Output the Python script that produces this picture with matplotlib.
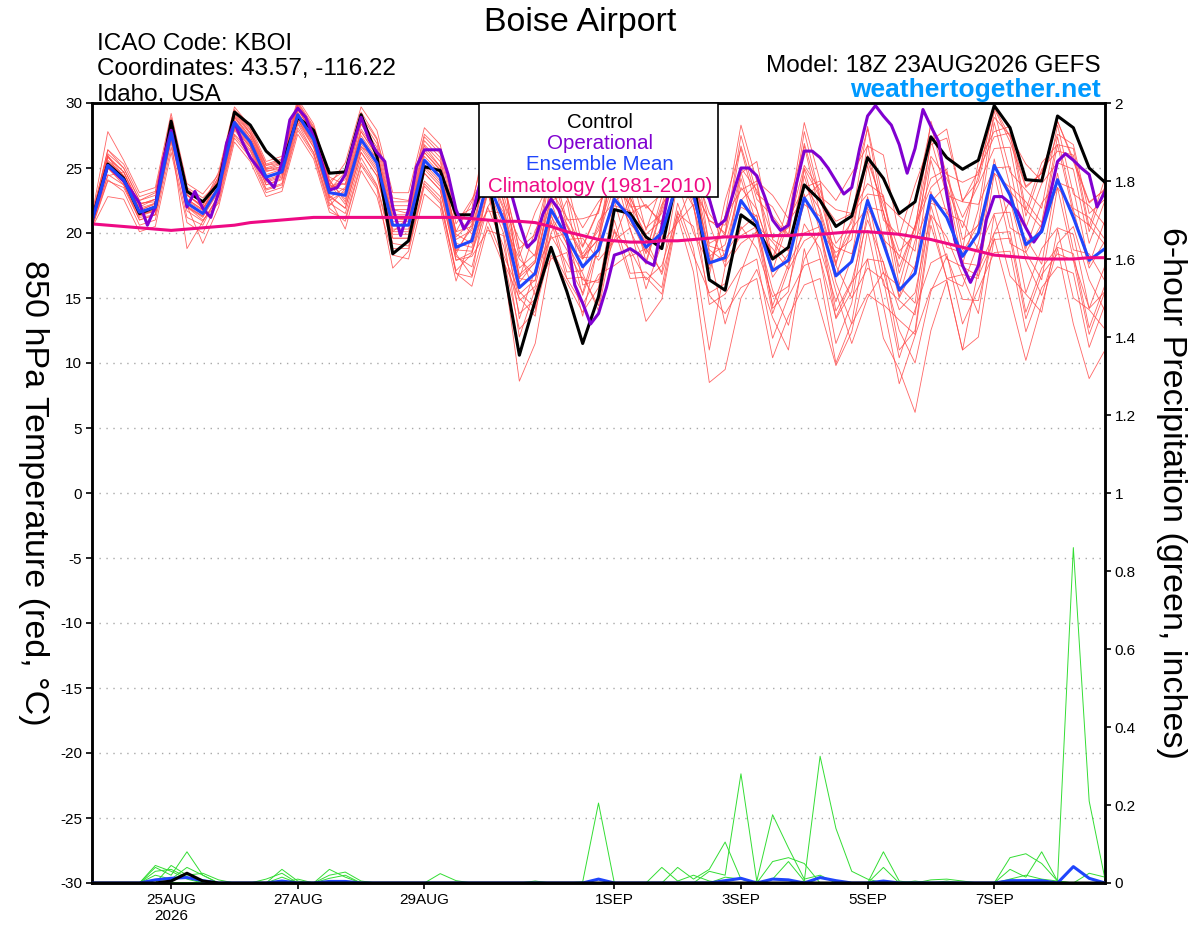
import numpy as np
import pandas as pd
import matplotlib
matplotlib.use('Agg')
import matplotlib.pyplot as plt
from matplotlib.patches import Rectangle

plt.rcParams['font.family'] = ['Liberation Sans', 'DejaVu Sans']
plt.rcParams['axes.unicode_minus'] = False

# time axis: GEFS 18Z 23AUG2026, 6-hourly to 384h (operational 3-hourly)
start = pd.Timestamp('2026-08-23 18:00')
times = pd.date_range(start, periods=65, freq='6h')
op_times = pd.date_range(start, periods=129, freq='3h')

tick_days = ['2026-08-25', '2026-08-27', '2026-08-29', '2026-09-01',
             '2026-09-03', '2026-09-05', '2026-09-07']
tick_labels = ['25AUG\n2026', '27AUG', '29AUG', '1SEP', '3SEP', '5SEP', '7SEP']

# 850 hPa temperature (C)
control = [21.0, 25.3, 24.2, 21.5, 22.0, 28.6, 23.2, 22.4,
           23.8, 29.3, 28.3, 26.3, 25.2, 28.9, 27.9, 24.6,
           24.7, 29.1, 25.9, 18.4, 19.4, 25.1, 24.8, 21.4,
           21.4, 24.5, 17.5, 10.6, 14.8, 18.9, 15.5, 11.5,
           15.1, 21.8, 21.5, 19.7, 18.8, 24.5, 24.0, 16.4,
           15.6, 21.4, 20.5, 18.0, 18.9, 23.7, 22.5, 20.5,
           21.3, 25.8, 24.2, 21.5, 22.4, 27.4, 25.8, 24.9,
           25.6, 29.8, 28.1, 24.1, 24.0, 29.0, 28.1, 25.0, 23.9]

ens_mean = [20.9, 25.2, 24.1, 21.6, 22.0, 27.7, 22.3, 21.5,
            23.5, 28.5, 27.0, 24.3, 24.7, 29.1, 27.2, 23.1,
            22.9, 27.2, 25.4, 20.6, 20.6, 25.6, 24.3, 18.9,
            19.4, 24.0, 21.0, 15.8, 16.9, 21.8, 19.7, 17.4,
            18.7, 22.6, 21.2, 18.9, 20.0, 24.0, 23.0, 17.7,
            18.1, 22.5, 20.8, 17.1, 17.9, 22.7, 20.8, 16.7,
            17.8, 22.5, 19.2, 15.6, 16.9, 22.9, 21.2, 18.2,
            20.0, 25.2, 22.9, 19.1, 20.1, 24.1, 21.2, 17.9, 18.8]

climatology = [20.7, 20.6, 20.5, 20.4, 20.3, 20.2, 20.3, 20.4,
               20.5, 20.6, 20.8, 20.9, 21.0, 21.1, 21.2, 21.2,
               21.2, 21.2, 21.2, 21.2, 21.2, 21.2, 21.2, 21.2,
               21.1, 21.0, 20.9, 20.9, 20.8, 20.5, 20.1, 19.8,
               19.5, 19.4, 19.3, 19.3, 19.4, 19.4, 19.5, 19.6,
               19.7, 19.7, 19.8, 19.8, 19.8, 19.9, 19.9, 20.0,
               20.1, 20.1, 20.0, 19.9, 19.7, 19.5, 19.2, 18.9,
               18.6, 18.3, 18.2, 18.1, 18.0, 18.0, 18.0, 18.1, 18.1]

operational = [21.0, 23.0, 25.2, 24.6, 24.0, 23.2, 22.3, 20.6, 22.0, 25.6,
               27.9, 25.0, 22.0, 23.2, 21.9, 21.2, 23.1, 26.9, 28.5, 27.0,
               25.8, 25.0, 24.2, 23.5, 25.4, 28.7, 29.6, 28.9, 27.4, 25.5,
               23.3, 23.5, 24.5, 26.8, 28.9, 27.2, 26.2, 25.5, 22.0, 19.8,
               21.8, 25.1, 26.4, 26.4, 26.4, 24.5, 21.8, 20.3, 21.3, 23.8,
               25.0, 25.5, 24.5, 23.0, 20.8, 18.9, 19.5, 21.5, 22.6, 21.8,
               19.8, 16.0, 14.6, 13.0, 13.8, 15.8, 18.3, 18.5, 18.8, 18.4,
               17.8, 17.5, 20.5, 23.5, 25.5, 26.0, 25.0, 23.5, 22.6, 20.5,
               21.0, 23.0, 25.0, 25.0, 24.4, 22.8, 21.0, 20.2, 20.6, 23.8,
               26.3, 26.3, 25.8, 25.0, 24.0, 23.0, 23.5, 26.5, 29.0, 29.8,
               29.0, 28.3, 26.8, 24.6, 26.5, 29.5, 28.2, 27.0, 23.0, 19.5,
               17.5, 16.2, 17.5, 21.0, 22.8, 22.8, 22.3, 21.6, 20.4, 19.3,
               20.2, 22.8, 25.5, 26.1, 25.6, 25.0, 24.5, 22.0, 23.2]

members = [
    [21.2, 25.9, 24.4, 22.3, 22.4, 28.1, 23.0, 21.9, 23.6, 28.9, 27.2, 24.8, 24.9, 29.6, 27.4, 23.5,
     23.8, 28.4, 26.2, 21.8, 21.5, 26.7, 25.1, 20.1, 20.5, 26.8, 24.5, 16.2, 17.8, 24.9, 20.6, 18.0,
     19.6, 26.9, 22.5, 17.8, 22.0, 27.9, 25.0, 21.5, 19.8, 24.6, 25.5, 19.5, 18.6, 25.0, 22.7, 18.1,
     20.2, 26.0, 21.6, 17.4, 20.5, 26.8, 27.3, 22.5, 24.0, 28.9, 27.5, 25.3, 24.0, 27.6, 26.8, 21.5, 22.6],
    [20.6, 24.5, 23.7, 21.0, 21.4, 27.1, 18.8, 20.9, 22.8, 27.6, 26.3, 23.4, 23.8, 28.4, 26.2, 22.3,
     21.5, 25.8, 23.7, 19.2, 19.0, 24.0, 22.8, 16.9, 16.6, 21.0, 18.0, 12.6, 14.0, 18.8, 16.5, 14.5,
     16.8, 17.5, 18.4, 13.2, 14.9, 21.3, 17.0, 8.5, 9.5, 15.0, 17.2, 13.5, 11.0, 18.8, 14.1, 9.8,
     12.4, 18.0, 11.9, 9.5, 6.2, 12.5, 16.3, 11.0, 12.0, 19.6, 15.0, 10.2, 14.5, 18.8, 13.0, 8.8, 11.0],
    [21.3, 26.4, 25.0, 22.5, 23.1, 28.6, 23.4, 22.4, 24.3, 29.4, 27.7, 25.2, 25.4, 29.9, 28.0, 24.0,
     24.8, 29.3, 27.3, 22.7, 22.5, 27.6, 26.4, 21.2, 21.9, 28.3, 23.0, 18.2, 21.6, 24.1, 23.9, 19.0,
     21.8, 25.5, 21.0, 18.5, 22.8, 24.3, 22.0, 17.6, 18.4, 20.3, 21.4, 14.2, 15.5, 23.0, 18.0, 13.5,
     16.2, 18.0, 17.8, 11.0, 12.5, 21.3, 16.5, 16.8, 16.5, 24.6, 19.2, 18.5, 16.4, 23.5, 18.0, 14.2, 15.5],
    [20.5, 24.1, 23.2, 20.6, 21.0, 26.6, 21.2, 20.6, 23.0, 28.0, 26.6, 23.7, 24.2, 28.7, 26.6, 22.7,
     20.3, 24.8, 22.8, 18.3, 18.0, 23.0, 21.9, 16.3, 19.8, 21.7, 21.5, 13.4, 17.2, 19.6, 20.0, 15.2,
     18.9, 26.0, 21.5, 22.2, 20.6, 27.4, 23.4, 21.0, 20.0, 27.5, 23.0, 22.0, 19.8, 27.8, 22.8, 21.8,
     21.5, 23.0, 22.8, 16.0, 20.5, 23.5, 24.7, 18.7, 25.5, 27.8, 28.2, 21.8, 25.4, 26.8, 26.5, 20.5, 24.2],
    [21.0, 25.6, 24.4, 21.7, 22.3, 27.8, 22.6, 21.8, 24.0, 29.0, 27.4, 24.9, 25.1, 29.5, 27.7, 23.7,
     23.3, 27.8, 25.9, 21.1, 21.0, 26.2, 24.8, 18.7, 18.6, 23.2, 17.8, 15.0, 13.6, 21.0, 16.5, 16.6,
     14.4, 21.0, 16.9, 17.0, 15.8, 22.3, 18.8, 11.0, 17.4, 24.2, 20.0, 18.8, 17.2, 24.4, 20.1, 18.5,
     19.5, 26.8, 21.0, 19.8, 18.6, 27.2, 22.9, 22.4, 22.2, 25.0, 25.1, 18.8, 22.3, 23.9, 23.4, 17.6, 21.0],
    [20.7, 25.2, 24.1, 21.4, 21.7, 27.4, 22.0, 21.3, 23.5, 28.4, 27.1, 24.3, 24.6, 29.2, 27.3, 23.1,
     24.4, 28.7, 26.9, 22.1, 22.1, 27.1, 25.8, 19.9, 19.2, 26.2, 20.8, 18.0, 16.7, 24.0, 19.5, 19.6,
     17.9, 19.4, 20.4, 15.7, 19.2, 20.8, 22.2, 14.5, 15.3, 17.3, 18.0, 11.9, 15.1, 17.5, 18.0, 11.5,
     14.6, 21.7, 16.0, 14.8, 13.7, 22.1, 18.0, 17.4, 16.7, 19.5, 19.6, 13.4, 16.8, 18.4, 17.9, 12.2, 15.5],
    [21.4, 27.8, 25.6, 23.1, 23.5, 29.2, 23.8, 23.0, 24.5, 29.5, 28.0, 25.3, 25.7, 30.1, 28.2, 24.1,
     22.4, 26.7, 24.9, 20.1, 20.1, 25.1, 23.8, 18.4, 16.7, 23.7, 18.3, 15.5, 14.2, 21.5, 17.0, 17.1,
     20.9, 22.4, 23.4, 18.7, 22.2, 23.8, 25.2, 17.5, 21.3, 23.3, 24.0, 17.9, 21.1, 23.5, 24.0, 17.5,
     15.0, 17.3, 16.4, 10.4, 14.1, 17.7, 18.4, 13.0, 15.7, 18.5, 18.6, 12.4, 15.8, 17.4, 16.9, 11.2, 14.5],
    [20.4, 22.8, 22.6, 20.1, 20.5, 26.2, 20.8, 20.0, 22.5, 27.5, 26.0, 23.3, 23.7, 28.1, 26.2, 22.1,
     23.4, 26.6, 25.9, 20.1, 21.2, 25.0, 24.8, 18.4, 20.7, 27.7, 22.3, 19.5, 18.2, 25.5, 21.0, 21.1,
     21.5, 27.8, 24.0, 24.1, 22.8, 29.2, 25.8, 22.9, 17.9, 24.7, 20.6, 19.3, 17.7, 24.9, 20.6, 18.9,
     18.4, 21.9, 19.8, 15.0, 17.5, 22.3, 21.8, 17.6, 21.8, 29.4, 24.7, 23.3, 21.9, 28.3, 23.0, 22.1, 20.6],
    [21.2, 26.0, 23.8, 21.3, 21.7, 27.4, 22.0, 21.2, 23.2, 28.2, 26.7, 24.0, 24.4, 28.8, 26.9, 22.8,
     21.9, 26.2, 24.4, 19.6, 19.6, 24.6, 23.3, 17.9, 18.5, 22.0, 24.0, 18.6, 15.2, 20.0, 22.5, 16.0,
     16.4, 19.5, 22.8, 19.5, 16.8, 21.0, 23.8, 18.5, 13.0, 17.0, 20.2, 15.6, 12.9, 18.0, 20.0, 15.5,
     11.5, 15.0, 17.0, 12.5, 10.0, 15.5, 18.2, 14.9, 14.8, 20.0, 22.5, 17.9, 15.2, 19.2, 20.5, 16.4, 14.0],
    [20.5, 24.4, 24.7, 22.2, 22.6, 28.3, 22.9, 22.1, 24.1, 29.1, 27.6, 24.9, 25.3, 29.7, 27.8, 23.7,
     25.4, 29.7, 27.9, 23.1, 23.1, 28.1, 26.8, 21.4, 19.9, 23.4, 21.6, 16.5, 16.3, 22.4, 19.1, 18.0,
     20.5, 24.8, 20.2, 17.6, 21.8, 25.9, 22.0, 16.7, 22.5, 26.5, 21.8, 18.0, 22.3, 26.7, 21.5, 17.5,
     23.5, 28.0, 21.5, 18.0, 22.5, 28.3, 23.6, 20.4, 24.4, 29.6, 27.0, 23.5, 24.6, 28.6, 25.5, 22.3, 23.4],
    [20.9, 25.0, 23.7, 21.2, 21.4, 27.3, 22.0, 21.0, 22.3, 27.3, 25.8, 23.1, 23.5, 27.9, 26.0, 21.9,
     20.9, 25.2, 23.4, 17.3, 18.6, 23.6, 22.3, 16.9, 15.9, 20.5, 17.5, 8.6, 11.5, 18.3, 16.2, 13.9,
     15.8, 22.5, 18.2, 18.8, 17.0, 23.9, 20.0, 17.6, 18.1, 22.5, 23.8, 17.1, 20.9, 22.7, 23.8, 16.7,
     20.3, 22.0, 21.7, 15.1, 19.4, 22.4, 23.7, 17.7, 17.5, 25.7, 20.4, 19.6, 17.6, 24.6, 18.7, 18.4, 16.3],
    [21.1, 25.8, 24.7, 22.2, 22.6, 28.3, 22.9, 22.1, 24.7, 29.7, 28.2, 25.5, 25.9, 30.3, 28.4, 24.3,
     23.7, 28.0, 26.2, 21.4, 21.4, 26.4, 25.1, 19.7, 20.9, 25.5, 22.5, 17.3, 18.4, 23.3, 21.2, 18.9,
     21.7, 25.6, 24.2, 21.9, 23.0, 27.0, 26.0, 20.7, 17.4, 19.2, 20.1, 13.8, 17.2, 19.4, 20.1, 13.4,
     15.5, 22.8, 16.9, 15.9, 14.6, 23.2, 18.9, 18.5, 20.7, 28.5, 23.6, 22.4, 20.8, 27.4, 21.9, 21.2, 19.5],
    [20.6, 25.0, 23.9, 21.4, 21.8, 27.5, 22.1, 21.3, 23.3, 28.3, 26.8, 24.1, 24.5, 28.9, 27.0, 22.9,
     21.9, 26.2, 24.4, 19.6, 19.6, 24.6, 23.3, 17.9, 18.2, 20.2, 19.8, 12.0, 15.7, 18.0, 18.5, 13.6,
     19.2, 22.1, 21.7, 18.4, 20.5, 23.5, 23.5, 17.2, 21.3, 28.3, 24.0, 22.9, 21.1, 28.5, 24.0, 22.5,
     24.6, 26.7, 26.0, 19.8, 23.7, 27.1, 28.0, 22.4, 24.8, 27.4, 27.7, 21.3, 24.9, 26.3, 26.0, 20.1, 23.6],
    [21.3, 26.4, 25.3, 22.8, 23.2, 28.9, 23.5, 22.7, 23.9, 28.9, 27.4, 24.7, 25.1, 29.5, 27.6, 23.5,
     24.1, 28.4, 26.6, 21.8, 21.8, 26.8, 25.5, 20.1, 22.4, 27.0, 24.0, 18.8, 19.9, 24.8, 22.7, 20.4,
     22.4, 23.9, 24.9, 20.2, 23.7, 25.3, 26.7, 19.0, 18.6, 22.0, 21.3, 16.6, 18.4, 22.2, 21.3, 16.2,
     13.0, 15.3, 14.4, 8.4, 12.1, 15.7, 16.4, 11.0, 17.2, 20.0, 20.1, 13.9, 17.3, 18.9, 18.4, 12.7, 16.0],
    [20.4, 24.0, 23.5, 21.0, 21.4, 27.1, 21.7, 20.9, 22.9, 27.9, 26.4, 23.7, 24.1, 28.5, 26.6, 22.5,
     23.2, 27.5, 25.7, 20.9, 20.9, 25.9, 24.6, 19.2, 18.9, 23.5, 20.5, 15.3, 16.4, 21.3, 19.2, 16.9,
     14.0, 20.3, 16.5, 16.6, 15.3, 21.7, 18.3, 15.4, 16.1, 20.5, 18.8, 15.1, 15.9, 20.7, 18.8, 14.7,
     18.1, 25.2, 19.5, 18.3, 17.2, 25.6, 21.5, 20.9, 18.7, 21.5, 21.6, 15.4, 18.8, 20.4, 19.9, 14.2, 17.5],
    [21.0, 25.5, 24.4, 21.9, 22.3, 28.0, 22.6, 21.8, 24.4, 29.4, 27.9, 25.2, 25.6, 30.0, 28.1, 24.0,
     22.6, 26.9, 25.1, 20.3, 20.3, 25.3, 24.0, 18.6, 20.4, 25.0, 22.0, 16.8, 17.9, 22.8, 20.7, 18.4,
     20.2, 24.1, 22.7, 20.4, 21.5, 25.5, 24.5, 19.2, 19.9, 26.7, 22.6, 21.3, 19.7, 26.9, 22.6, 20.9,
     21.5, 23.8, 22.9, 16.9, 20.6, 24.2, 24.9, 19.5, 20.6, 24.6, 23.5, 18.5, 20.7, 23.5, 21.8, 17.3, 19.4],
    [20.7, 25.0, 23.9, 21.4, 21.8, 27.5, 22.1, 19.2, 22.0, 27.0, 25.5, 22.8, 23.2, 27.6, 25.7, 21.6,
     21.1, 25.4, 23.6, 18.8, 18.8, 23.8, 22.5, 17.1, 18.4, 23.0, 20.0, 14.8, 15.9, 20.8, 18.7, 16.4,
     16.2, 20.1, 18.7, 16.4, 17.5, 21.5, 20.5, 15.2, 13.8, 15.8, 16.5, 10.4, 13.6, 16.0, 16.5, 10.0,
     13.1, 20.2, 14.5, 13.3, 12.2, 20.6, 16.5, 15.9, 19.2, 25.0, 23.2, 21.8, 20.4, 26.8, 21.5, 20.6, 19.1],
    [21.1, 26.1, 25.0, 22.5, 22.9, 28.6, 23.2, 22.4, 23.7, 28.7, 27.2, 24.5, 24.9, 29.3, 27.4, 23.3,
     24.7, 29.0, 27.2, 22.4, 22.4, 27.4, 26.1, 20.7, 22.6, 24.7, 24.3, 16.5, 20.2, 22.5, 23.0, 18.1,
     18.2, 23.1, 20.7, 19.4, 19.5, 24.5, 22.5, 18.2, 19.1, 23.5, 21.8, 18.1, 18.9, 23.7, 21.8, 17.7,
     21.1, 28.2, 22.5, 21.3, 20.2, 28.6, 24.5, 23.9, 24.5, 29.7, 27.4, 23.6, 24.6, 28.6, 25.7, 22.4, 23.3],
    [20.5, 25.4, 24.3, 21.8, 22.2, 27.9, 22.5, 21.7, 24.2, 29.2, 27.7, 25.0, 25.4, 29.8, 27.9, 23.8,
     22.2, 26.5, 24.7, 19.9, 19.9, 24.9, 23.6, 18.2, 17.4, 22.0, 19.0, 13.8, 14.9, 19.8, 17.7, 15.4,
     19.7, 23.6, 22.2, 19.9, 21.0, 25.0, 24.0, 18.7, 17.8, 19.8, 20.5, 14.4, 17.6, 20.0, 20.5, 14.0,
     16.3, 21.0, 17.7, 14.1, 15.4, 21.4, 19.7, 16.7, 13.8, 21.4, 16.7, 15.3, 13.9, 20.3, 15.0, 14.1, 12.6],
    [21.3, 25.9, 24.7, 22.0, 22.6, 27.4, 22.9, 22.0, 23.1, 28.1, 26.6, 23.9, 24.3, 28.7, 26.8, 22.7,
     23.5, 27.8, 26.0, 21.2, 21.2, 26.2, 24.9, 19.5, 20.2, 24.8, 21.8, 16.6, 17.7, 22.6, 20.5, 18.2,
     19.5, 25.8, 22.0, 22.1, 20.8, 27.2, 23.8, 20.9, 20.6, 25.0, 23.3, 19.6, 20.4, 25.2, 23.3, 19.2,
     20.8, 25.5, 22.2, 18.6, 19.9, 25.9, 24.2, 21.2, 23.7, 26.5, 26.6, 20.4, 23.8, 25.4, 24.9, 19.2, 22.5],
]

# 6-hour precipitation (inches), only non-zero steps listed (step index: value)
precip_members = [
    {4: 0.04, 5: 0.02, 6: 0.08, 7: 0.02},
    {4: 0.045, 5: 0.03, 6: 0.01},
    {5: 0.045, 6: 0.02, 7: 0.025, 8: 0.008},
    {4: 0.03, 5: 0.035, 6: 0.015},
    {4: 0.02, 5: 0.01, 6: 0.04, 7: 0.02, 12: 0.035, 13: 0.005},
    {11: 0.01, 12: 0.025, 15: 0.035, 16: 0.015},
    {12: 0.015, 15: 0.02, 16: 0.028, 17: 0.005},
    {13: 0.01, 15: 0.012, 16: 0.02, 22: 0.024, 23: 0.006},
    {28: 0.005, 31: 0.003, 32: 0.205},
    {36: 0.04, 37: 0.005, 38: 0.02, 39: 0.005},
    {37: 0.04, 38: 0.01, 39: 0.035, 40: 0.105, 41: 0.01},
    {39: 0.03, 40: 0.02, 41: 0.28, 42: 0.005},
    {40: 0.015, 41: 0.01, 43: 0.055, 44: 0.065, 45: 0.05},
    {42: 0.005, 43: 0.175, 44: 0.09, 45: 0.01, 46: 0.02},
    {43: 0.01, 44: 0.055, 45: 0.005, 50: 0.04},
    {45: 0.005, 46: 0.325, 47: 0.14, 48: 0.03, 49: 0.01},
    {50: 0.08, 51: 0.005, 53: 0.008, 54: 0.01, 55: 0.005},
    {52: 0.005, 54: 0.005, 58: 0.065, 59: 0.075, 60: 0.05, 61: 0.005},
    {58: 0.035, 59: 0.015, 60: 0.08, 61: 0.005, 63: 0.025, 64: 0.015},
    {58: 0.01, 59: 0.02, 60: 0.01, 61: 0.005, 62: 0.86, 63: 0.21, 64: 0.01},
]
precip_mean = {4: 0.008, 5: 0.012, 6: 0.014, 7: 0.006, 12: 0.005, 15: 0.004, 16: 0.004,
               32: 0.01, 40: 0.006, 41: 0.012, 43: 0.01, 44: 0.008, 46: 0.014, 47: 0.006,
               50: 0.005, 58: 0.006, 59: 0.006, 60: 0.006, 62: 0.042, 63: 0.012}
precip_control = {5: 0.005, 6: 0.025, 7: 0.005}

precip_ticks = [0, 0.2, 0.4, 0.6, 0.8, 1.0, 1.2, 1.4, 1.6, 1.8, 2.0]
precip_ticklabels = ['0', '0.2', '0.4', '0.6', '0.8', '1', '1.2', '1.4', '1.6', '1.8', '2']


def full_series(d):
    vals = np.zeros(len(times))
    for k, v in d.items():
        vals[k] = v
    return vals


def fx(px):
    return px / 1200.0


def fy(py):
    return 1 - py / 927.0


c_op = '#8000d0'
c_mean = '#1f45fc'
c_clim = '#ee0a84'

fig = plt.figure(figsize=(12, 9.27), dpi=100)
ax = fig.add_axes([fx(92), fy(883), (1105 - 92) / 1200, 780 / 927])
ax2 = ax.twinx()

# temperature
for m in members:
    ax.plot(times, m, color='#ff4a4a', lw=0.6, alpha=0.85, zorder=2)
ax.plot(times, control, color='black', lw=2.2, zorder=3)
ax.plot(op_times, operational, color=c_op, lw=2.2, zorder=4)
ax.plot(times, ens_mean, color=c_mean, lw=2.2, zorder=5)
ax.plot(times, climatology, color=c_clim, lw=2.2, zorder=6)

ax.set_xlim(times[0], times[-1])
ax.set_ylim(-30, 30)
ax.set_yticks(range(-30, 31, 5))
ax.yaxis.grid(True, linestyle=(0, (1, 4)), color='#a8a8a8', lw=1.0)
ax.set_axisbelow(True)
ax.set_xticks(pd.to_datetime(tick_days))
ax.set_xticklabels(tick_labels)
ax.minorticks_off()

# precipitation
for p in precip_members:
    ax2.plot(times, full_series(p), color='#33dd33', lw=0.7, zorder=2)
ax2.plot(times, full_series(precip_mean), color=c_mean, lw=2.2, zorder=3)
ax2.plot(times, full_series(precip_control), color='black', lw=2.2, zorder=4)
ax2.set_ylim(0, 2)
ax2.set_yticks(precip_ticks)
ax2.set_yticklabels(precip_ticklabels)

for a in (ax, ax2):
    for s in a.spines.values():
        s.set_linewidth(1.8)
    a.tick_params(direction='out', length=4, width=1.2, labelsize=11, pad=3)

# legend box
ax2.add_patch(Rectangle((0.382, 0.8795), 0.236, 0.1205, transform=ax2.transAxes,
                        facecolor='white', edgecolor='black', lw=1.2, zorder=20,
                        clip_on=False))
leg_items = [('Control', 'black', 128), ('Operational', c_op, 149),
             ('Ensemble Mean', c_mean, 170), ('Climatology (1981-2010)', c_clim, 192)]
for txt, col, yb in leg_items:
    fig.text(fx(600), fy(yb), txt, color=col, fontsize=14.8, ha='center',
             va='baseline', zorder=30)

# header
fig.text(fx(580), fy(31), 'Boise Airport', fontsize=24.5, ha='center', va='baseline')
fig.text(fx(97), fy(50), 'ICAO Code: KBOI', fontsize=17.5, va='baseline')
fig.text(fx(97), fy(75), 'Coordinates: 43.57, -116.22', fontsize=17.5, va='baseline')
fig.text(fx(97), fy(101), 'Idaho, USA', fontsize=17.5, va='baseline')
fig.text(fx(1101), fy(72), 'Model: 18Z 23AUG2026 GEFS', fontsize=17.5, ha='right',
         va='baseline')
fig.text(fx(1101), fy(97), 'weathertogether.net', fontsize=19, ha='right',
         va='baseline', color='#0099ff', fontweight='bold')

# axis titles
fig.text(fx(33), fy(493), '850 hPa Temperature (red, °C)', fontsize=24.5,
         rotation=270, ha='center', va='center')
fig.text(fx(1171), fy(493), '6-hour Precipitation (green, inches)', fontsize=24.5,
         rotation=270, ha='center', va='center')

fig.savefig('out.png', dpi=100)
